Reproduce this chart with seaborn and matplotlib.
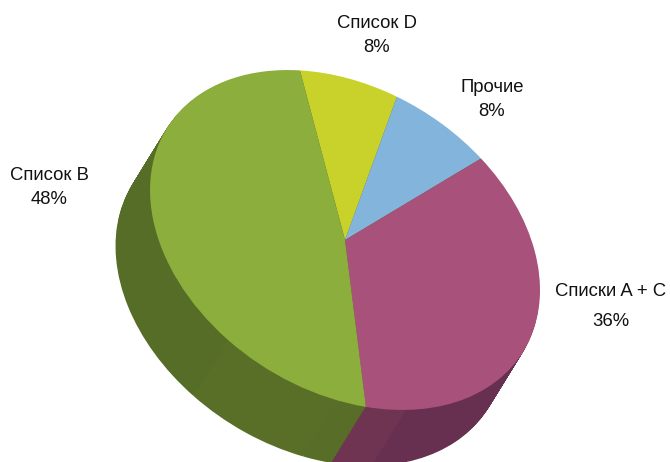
import matplotlib
matplotlib.use("Agg")
import matplotlib.pyplot as plt
from matplotlib.transforms import Affine2D
import seaborn as sns

# slices, clockwise starting from the D / B border
labels = ["Список D", "Прочие", "Списки A + C", "Список B"]
shares = [8, 8, 36, 48]
pct_labels = ["8%", "8%", "36%", "48%"]
top_colors = ["#C9D22A", "#82B4DC", "#A8527B", "#8CAE3C"]

# side wall, split where the original has faint shading seams
side_shares = [8, 8, 32.6, 3.4, 2.3, 9.7, 36]
side_colors = ["#566D27", "#566D27", "#683050", "#6F3452", "#586E28", "#596F28", "#566D27"]

sns.set_theme(style="white")
plt.rcParams["font.family"] = ["Liberation Sans"]

fig = plt.figure(figsize=(6.7, 4.62), dpi=100)
ax = fig.add_axes([0, 0, 1, 1])

# tilted ellipse for the pie top, in pixels
tilt = Affine2D.from_values(193.1, 27, -27, -167.8, 345, 240)
depth = 65
for i in range(depth, 0, -1):
    wall, _ = ax.pie(side_shares, colors=side_colors, startangle=95.4, counterclock=False,
                     wedgeprops={"linewidth": 0})
    for w in wall:
        w.set_transform(tilt + Affine2D().translate(-34.5 * i / depth, 56 * i / depth) + ax.transData)

top, _ = ax.pie(shares, colors=top_colors, startangle=95.4, counterclock=False,
                wedgeprops={"linewidth": 0})
for w in top:
    w.set_transform(tilt + ax.transData)

ax.set_aspect("auto")
ax.set_xlim(0, 670)
ax.set_ylim(462, 0)
ax.axis("off")

name_pos = [(377, 24), (492, 87), (611, 291), (49, 176)]
pct_pos = [(377, 48), (492, 112), (611, 321), (49, 200)]
for lab, pct, p1, p2 in zip(labels, pct_labels, name_pos, pct_pos):
    ax.text(p1[0], p1[1], lab, ha="center", va="center", fontsize=13.3, color="#111111")
    ax.text(p2[0], p2[1], pct, ha="center", va="center", fontsize=13.3, color="#111111")

fig.savefig("out.png", dpi=100)
